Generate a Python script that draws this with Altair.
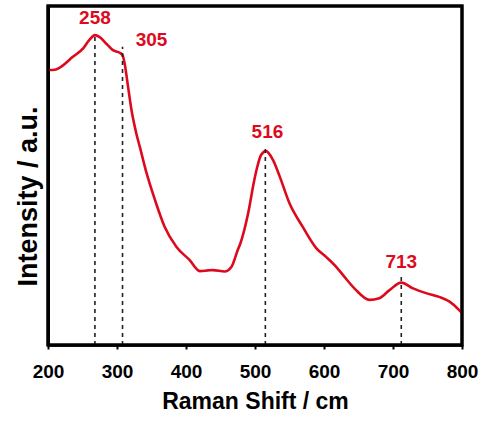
import altair as alt
import pandas as pd

# Raman spectrum
shift = [201, 210, 217, 236, 251, 260, 268, 275, 285, 294, 304,
         308, 311, 316, 321, 328, 333, 343, 355, 369, 386,
         405, 420, 432, 439, 456, 466, 475, 479, 490, 499,
         504, 509, 516, 526, 536, 550, 569, 589, 603, 618,
         630, 645, 666, 680, 695, 712, 729, 748, 767,
         782, 796, 800]
intensity = [811, 812, 818, 850, 875, 900, 914, 908, 888, 870, 862,
             855, 831, 762, 693, 624, 585, 506, 428, 349, 290,
             251, 218, 220, 221, 217, 231, 280, 301, 388, 487,
             531, 561, 572, 546, 496, 418, 349, 285, 260, 230,
             200, 165, 133, 138, 162, 184, 167, 153, 142,
             128, 103, 94]

# peak markers
peak_pos = [268, 308, 515, 712]
peak_top = [914, 880, 585, 201]
peak_label = ["258", "305", "516", "713"]
label_x = [268, 350, 518, 712]
label_y = [964, 900, 629, 246]

x_ticks = [200, 250, 300, 350, 400, 450, 500, 550, 600, 650, 700, 750, 800]

RED = "#dd0a1e"
FONT = "Liberation Sans"

spec_df = pd.DataFrame({"shift": shift, "intensity": intensity})
peak_df = pd.DataFrame({"pos": peak_pos, "top": peak_top, "zero": [0] * len(peak_pos)})
lab_df = pd.DataFrame({"x": label_x, "y": label_y, "text": peak_label})

xscale = alt.Scale(domain=[200, 800], nice=False, zero=False)
yscale = alt.Scale(domain=[0, 1000], nice=False)

xaxis = alt.Axis(
    title="Raman Shift / cm",
    values=x_ticks,
    labelExpr="datum.value % 100 === 0 ? datum.label : ''",
    grid=False,
    domainColor="#000000", domainWidth=2.5,
    tickColor="#000000", tickWidth=2, tickSize=4,
    labelFont=FONT, labelFontSize=19, labelFontWeight="bold", labelColor="black",
    labelPadding=13, labelFlush=False,
    titleFont=FONT, titleFontSize=23, titleFontWeight="bold", titleColor="black",
    titlePadding=9,
)
yaxis = alt.Axis(
    title="Intensity / a.u.",
    labels=False, ticks=False, grid=False,
    domain=True, domainColor="#000000", domainWidth=3, domainOpacity=1,
    titleFont=FONT, titleFontSize=27, titleFontWeight="bold", titleColor="black",
    titlePadding=6, titleY=190,
)

line = alt.Chart(spec_df).mark_line(color=RED, strokeWidth=2.6, interpolate="monotone").encode(
    x=alt.X("shift:Q", scale=xscale, axis=xaxis),
    y=alt.Y("intensity:Q", scale=yscale, axis=yaxis),
)

# plot frame (top / right / left borders)
frame = alt.Chart(pd.DataFrame({"k": [0]})).mark_rect(
    fill="transparent", stroke="#000000", strokeWidth=3, strokeOpacity=1
).encode(
    x=alt.value(0), x2=alt.value("width"),
    y=alt.value(0), y2=alt.value("height"),
)

rules = alt.Chart(peak_df).mark_rule(color="#222222", strokeWidth=1.6, strokeDash=[4, 4]).encode(
    x=alt.X("pos:Q", scale=xscale),
    y=alt.Y("zero:Q", scale=yscale),
    y2="top:Q",
)

labels = alt.Chart(lab_df).mark_text(
    color=RED, font=FONT, fontSize=19, fontWeight="bold", align="center", baseline="middle"
).encode(
    x=alt.X("x:Q", scale=xscale),
    y=alt.Y("y:Q", scale=yscale),
    text="text:N",
)

chart = alt.layer(line, rules, labels, frame).properties(
    width=414, height=339,
    autosize=alt.AutoSizeParams(type="none"),
    padding={"left": 48, "top": 6, "right": 17, "bottom": 76},
).configure(
    background="white",
    view=alt.ViewConfig(stroke="#000000", strokeWidth=3),
)

chart.save("out.html", embed_options={"renderer": "svg", "actions": False})
